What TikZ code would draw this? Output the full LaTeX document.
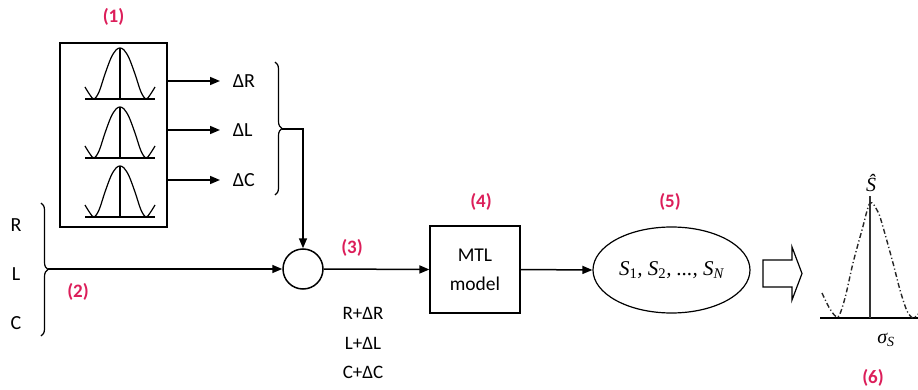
\documentclass[tikz,border=0pt]{standalone}
\usepackage{fontspec}
\setmainfont{Carlito}
\newfontfamily\tms{Liberation Serif}
\usetikzlibrary{arrows.meta,shapes.geometric,decorations.pathreplacing}
\definecolor{lblred}{RGB}{220,30,90}
\newcommand{\Ssub}[1]{S\textsubscript{#1}}
\begin{document}
\begin{tikzpicture}[x=1pt,y=-1pt,line width=1.5pt,
  arr/.style={-{Triangle[length=10pt,width=8pt]}},
  tag/.style={text=lblred,font=\fontsize{19}{21}\selectfont\bfseries},
  lbl/.style={font=\fontsize{20}{22}\selectfont,inner sep=1pt},
  mth/.style={font=\fontsize{20}{22}\selectfont\tms\itshape,inner sep=1pt},
  brc/.style={decorate,decoration={brace,amplitude=7pt},line width=1.2pt},
  gauss/.style={line width=1.2pt}]
\useasboundingbox (0,0) rectangle (918,390);

% (1) distributions box
\node[tag] (t1) at (113.5,17) {(1)};
\node[draw,line width=1.2pt,minimum width=107pt,minimum height=184pt,inner sep=0pt] (box) at (113.5,135) {};
\foreach \yb in {99,158,217}{
  \begin{scope}[shift={(120,\yb)}]
    \draw[gauss] (-35,0) -- (35,0);
    \draw[gauss] (0,0) -- (0,-51);
    \draw[gauss] plot[smooth,tension=0.55] coordinates {(-35,-12) (-30,-4) (-26,0) (-21,-7) (-15,-25) (-9,-41) (-4,-49) (0,-51) (4,-49) (9,-41) (15,-25) (21,-7) (26,0) (30,-4) (35,-12)};
  \end{scope}
}
\node[lbl,anchor=west] (dR) at (231,81) {ΔR};
\node[lbl,anchor=west] (dL) at (231,130) {ΔL};
\node[lbl,anchor=west] (dC) at (231,180) {ΔC};
\draw[arr,shorten >=11pt] (box.east |- dR) -- (dR.west);
\draw[arr,shorten >=11pt] (box.east |- dL) -- (dL.west);
\draw[arr,shorten >=11pt] (box.east |- dC) -- (dC.west);
\draw[brc] (275,62) -- (275,195);
\coordinate (bt) at (282,129);

% summing junction
\node[draw,circle,minimum size=40pt,inner sep=0pt] (sum) at (303,269) {};
\draw[arr] (bt) -| (sum.north);

% (2) nominal values
\node[lbl] (R) at (16,225) {R};
\node[lbl] (L) at (16,274) {L};
\node[lbl] (C) at (16,323) {C};
\draw[brc] (41,203) -- (41,336);
\coordinate (lt) at (48,269);
\draw[arr] (lt) -- (sum.west);
\node[tag] (t2) at (78,292) {(2)};

% (3)
\node[tag] (t3) at (352,248) {(3)};
\node[lbl,align=center,font=\fontsize{19}{29.5}\selectfont] (sumtxt) at (363,343) {R+ΔR\\L+ΔL\\C+ΔC};

% (4) MTL model
\node[draw,line width=1.2pt,minimum width=90pt,minimum height=87pt,align=center,font=\fontsize{19.5}{29}\selectfont] (mtl) at (475,269.5) {MTL\\model};
\node[tag] (t4) at (481,202) {(4)};
\draw[arr] (sum.east) -- (mtl.west);

% (5) outputs
\node[draw,ellipse,line width=1.2pt,minimum width=157pt,minimum height=86pt,inner sep=0pt,font=\fontsize{21}{23}\selectfont\tms\itshape] (ell) at (671.5,270) {\Ssub{\upshape 1}, \Ssub{\upshape 2}, ..., \Ssub{N}};
\node[tag] (t5) at (670,202) {(5)};
\draw[arr] (mtl.east) -- (ell.west);

% hollow arrow
\draw[line width=1.2pt] (763,260) -- (792,260) -- (792,247) -- (802,273.5) -- (792,300) -- (792,287) -- (763,287) -- cycle;

% (6) statistics
\draw[line width=1.4pt] (820,318) -- (918,318);
\draw[line width=1.4pt,black!80] (870,318) -- (870,196);
\draw[line width=1.4pt,black!85,dash pattern=on 5pt off 2.5pt on 1.2pt off 2.5pt]
  plot[smooth,tension=0.5] coordinates {(822,293) (830,309) (838,317) (845,298) (853,263) (862,230) (870,203) (878,212) (883,227) (893,263) (900,290) (907,311) (913,318) (918,314)};
\node[mth] (shat) at (871,183) {\^S};
\node[mth] (sig) at (886,340) {σ\textsubscript{S}};
\node[tag] (t6) at (873,378) {(6)};
\end{tikzpicture}
\end{document}
